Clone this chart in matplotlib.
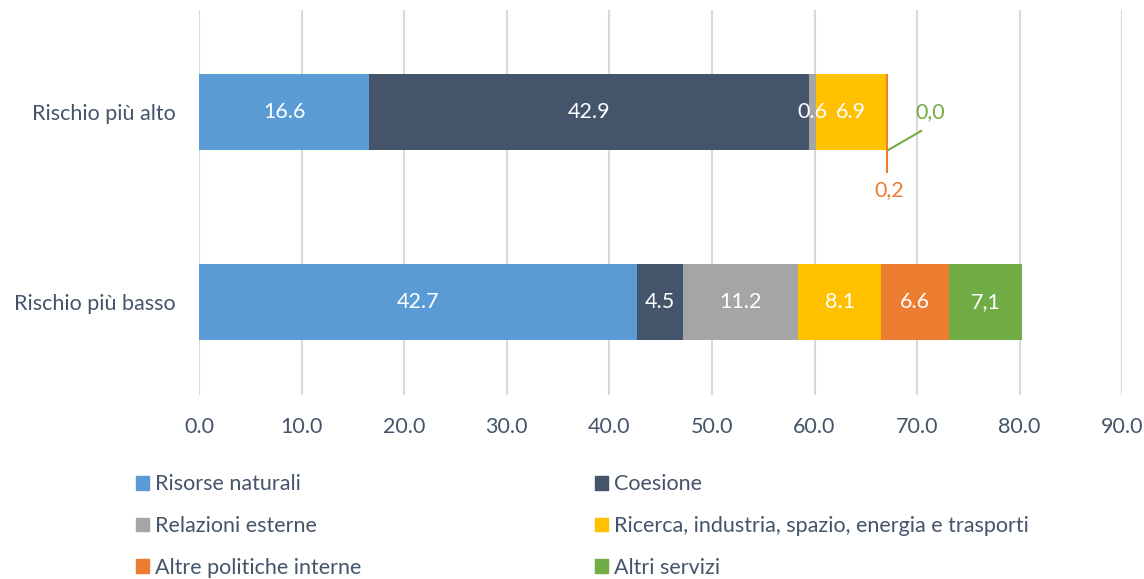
import matplotlib.pyplot as plt
from matplotlib.patches import Patch

# Dati
categorie = ["Rischio più basso", "Rischio più alto"]
serie = ["Risorse naturali", "Coesione", "Relazioni esterne",
         "Ricerca, industria, spazio, energia e trasporti",
         "Altre politiche interne", "Altri servizi"]
colori = ["#5B9BD5", "#44546A", "#A5A5A5", "#FFC000", "#ED7D31", "#70AD47"]
valori_basso = [42.7, 4.5, 11.2, 8.1, 6.6, 7.1]
valori_alto = [16.6, 42.9, 0.6, 6.9, 0.2, 0.0]
etichette_basso = ["42.7", "4.5", "11.2", "8.1", "6.6", "7,1"]
etichette_alto = ["16.6", "42.9", "0.6", "6.9", "", ""]
xticks = [0, 10, 20, 30, 40, 50, 60, 70, 80, 90]

testo = "#44546A"
plt.rcParams['font.family'] = ['Lato', 'DejaVu Sans']

fig = plt.figure(figsize=(11.44, 5.79), dpi=100)
ax = fig.add_axes([0.174, 0.318, 0.807, 0.665])

valori = [valori_basso, valori_alto]
etichette = [etichette_basso, etichette_alto]
for i in range(2):
    left = 0
    for j, v in enumerate(valori[i]):
        ax.barh(i, v, left=left, height=0.4, color=colori[j], zorder=2)
        if etichette[i][j]:
            ax.text(left + v / 2, i, etichette[i][j], ha="center", va="center",
                    color="white", fontsize=15.5, zorder=3)
        left += v

# Etichette esterne per i segmenti piccoli
fine_alto = sum(valori_alto)
ax.plot([fine_alto, fine_alto + 3.2], [0.8, 0.9], color=colori[5], lw=1.5, zorder=3)
ax.text(fine_alto + 4.1, 1.0, "0,0", color=colori[5], fontsize=15.5, ha="center", va="center")
ax.plot([fine_alto - 0.1, fine_alto - 0.1], [0.8, 0.684], color=colori[4], lw=1.5, zorder=3)
ax.text(fine_alto + 0.1, 0.59, "0,2", color=colori[4], fontsize=15.5, ha="center", va="center")

ax.set_xlim(0, 90)
ax.set_ylim(-0.489, 1.537)
ax.set_xticks(xticks)
ax.set_xticklabels([f"{t:.1f}" for t in xticks])
ax.set_yticks([0, 1])
ax.set_yticklabels(categorie)
ax.tick_params(length=0, labelsize=15.5, colors=testo)
ax.tick_params(axis="x", pad=16)
ax.tick_params(axis="y", pad=17)
ax.grid(axis="x", color="#D9D9D9", lw=1.5, zorder=0)
for s in ax.spines.values():
    s.set_visible(False)

# Legenda in due colonne
handles = [Patch(color=c) for c in colori]
col1 = [0, 2, 4]
col2 = [1, 3, 5]
for idx, x0 in [(col1, 0.102), (col2, 0.503)]:
    fig.legend([handles[k] for k in idx], [serie[k] for k in idx],
               loc="upper left", bbox_to_anchor=(x0, 0.214), frameon=False,
               fontsize=15.5, handlelength=0.6, handleheight=0.6, handletextpad=0.3,
               labelspacing=1.0, labelcolor=testo)

fig.savefig("out.png", dpi=100)
